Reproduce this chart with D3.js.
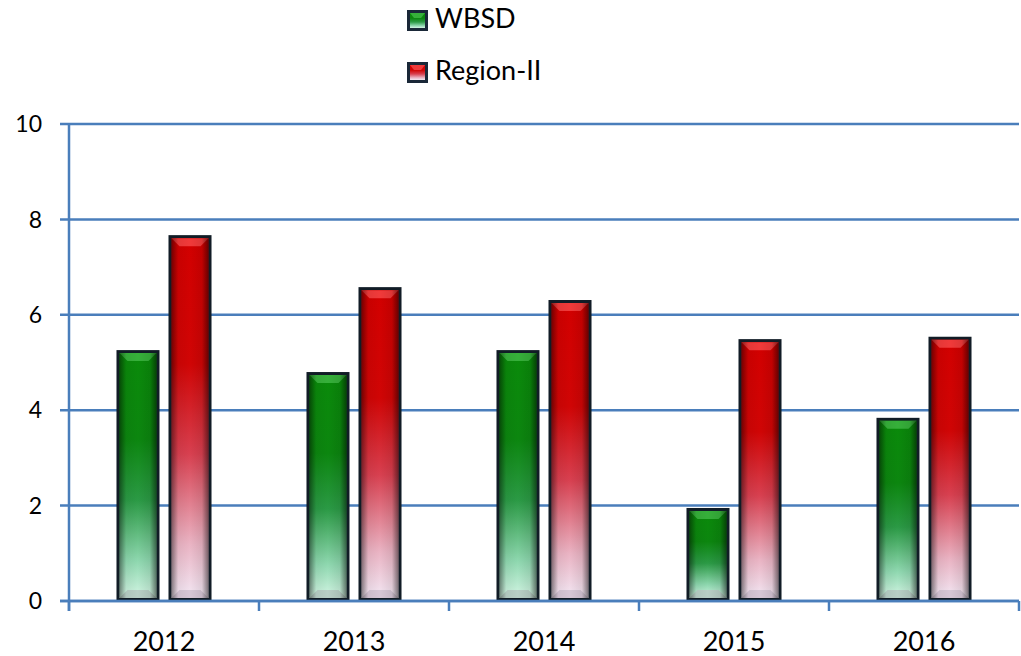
<!DOCTYPE html>
<html><head><meta charset="utf-8">
<script src="https://cdn.jsdelivr.net/npm/d3@7"></script>
<style>
html,body{margin:0;padding:0;background:#fff;}
svg{display:block;font-family:Lato, "Open Sans", sans-serif;}
</style></head>
<body>
<svg id="chart" width="1021" height="656"></svg>
<script>
const years = ["2012","2013","2014","2015","2016"];
const seriesNames = ["WBSD","Region-II"];
const wbsd = [5.26, 4.80, 5.26, 1.95, 3.84];
const region2 = [7.67, 6.58, 6.31, 5.49, 5.54];
const yTicks = [0,2,4,6,8,10];

(function(){
const svg = d3.select("#chart");
const pLeft = 69, pRight = 1019, pTop = 124, pBottom = 601;
const axisColor = "#4a7ebb";

const x0 = d3.scaleBand().domain(years).range([pLeft, pRight]).padding(0);
const x1 = d3.scaleBand().domain(seriesNames).range([0, x0.bandwidth()]).paddingInner(0.173).paddingOuter(0.913);
const y = d3.scaleLinear().domain([0,10]).range([pBottom, pTop]);

const defs = svg.append("defs");
function vgrad(id, stops){
  const g = defs.append("linearGradient").attr("id", id).attr("x1",0).attr("y1",0).attr("x2",0).attr("y2",1);
  stops.forEach(s=>g.append("stop").attr("offset",s[0]).attr("stop-color",s[1]));
}
vgrad("gGreen", [[0,"#0a8a0a"],[0.35,"#0c860f"],[0.6,"#2b9a45"],[0.85,"#8fd8b0"],[1,"#d4f5e4"]]);
vgrad("gRed", [[0,"#d20000"],[0.35,"#d00505"],[0.6,"#d84050"],[0.85,"#eab4c4"],[1,"#f3e8f4"]]);
const hs = defs.append("linearGradient").attr("id","side").attr("x1",0).attr("y1",0).attr("x2",1).attr("y2",0);
[[0,0.45],[0.18,0.05],[0.5,0],[0.82,0.08],[1,0.5]].forEach(s=>hs.append("stop").attr("offset",s[0]).attr("stop-color","#000").attr("stop-opacity",s[1]));

const fills = {"WBSD":"url(#gGreen)","Region-II":"url(#gRed)"};
const topBevel = {"WBSD":"#36b03a","Region-II":"#f03a3a"};
const botBevel = {"WBSD":"#b8cfc6","Region-II":"#d6c6d6"};

svg.append("g").selectAll("line").data(yTicks).join("line")
  .attr("x1", pLeft-9).attr("x2", pRight)
  .attr("y1", d=>y(d)).attr("y2", d=>y(d))
  .attr("stroke", axisColor).attr("stroke-width", 2.5);

svg.append("line").attr("x1",pLeft).attr("x2",pLeft).attr("y1",pTop).attr("y2",pBottom+10)
  .attr("stroke",axisColor).attr("stroke-width",2.5);
const bounds = years.map(d=>x0(d)).concat([pRight]);
svg.append("g").selectAll("line").data(bounds).join("line")
  .attr("x1",d=>d).attr("x2",d=>d).attr("y1",pBottom).attr("y2",pBottom+10)
  .attr("stroke",axisColor).attr("stroke-width",2.5);

svg.append("g").selectAll("text").data(yTicks).join("text")
  .attr("x", 42).attr("y", d=>y(d)).attr("dy","0.36em")
  .attr("text-anchor","end").attr("font-size",23).attr("fill","#000")
  .text(d=>d);

svg.append("g").selectAll("text").data(years).join("text")
  .attr("x", d=>x0(d)+x0.bandwidth()/2).attr("y", 651)
  .attr("text-anchor","middle").attr("font-size",27).attr("fill","#000")
  .text(d=>d);

const rows = [];
years.forEach((yr,i)=>{
  rows.push({year:yr, s:"WBSD", v:wbsd[i]});
  rows.push({year:yr, s:"Region-II", v:region2[i]});
});
const bw = x1.bandwidth();
const b = 3, bev = 8;
const bars = svg.append("g").selectAll("g").data(rows).join("g")
  .attr("transform", d=>`translate(${x0(d.year)+x1(d.s)},${y(d.v)})`);
bars.append("rect").attr("width",bw).attr("height",d=>pBottom-y(d.v)).attr("fill","#111c26");
bars.append("rect").attr("x",b).attr("y",b).attr("width",bw-2*b).attr("height",d=>Math.max(0,pBottom-y(d.v)-2*b))
  .attr("fill",d=>fills[d.s]);
bars.append("path").attr("d",()=>{
  const w = bw-2*b;
  return `M${b},${b} L${b+w},${b} L${b+w-bev},${b+bev} L${b+bev},${b+bev} Z`;
}).attr("fill",d=>topBevel[d.s]);
bars.append("path").attr("d",d=>{
  const h = pBottom-y(d.v); const w = bw-2*b;
  return `M${b},${h-b} L${b+w},${h-b} L${b+w-bev},${h-b-bev} L${b+bev},${h-b-bev} Z`;
}).attr("fill",d=>botBevel[d.s]);
bars.append("rect").attr("x",b).attr("y",b).attr("width",bw-2*b).attr("height",d=>Math.max(0,pBottom-y(d.v)-2*b))
  .attr("fill","url(#side)");

svg.append("line").attr("x1",pLeft-9).attr("x2",pRight).attr("y1",pBottom).attr("y2",pBottom)
  .attr("stroke",axisColor).attr("stroke-width",2.5);

const lg = svg.append("g").selectAll("g").data(seriesNames).join("g")
  .attr("transform",(d,i)=>`translate(407,${10+i*52})`);
lg.append("rect").attr("width",21).attr("height",21).attr("fill","#1a2838");
lg.append("rect").attr("x",3).attr("y",3).attr("width",15).attr("height",15).attr("fill",d=>fills[d]);
lg.append("path").attr("d","M3,3 L18,3 L14,8 L7,8 Z").attr("fill",d=>topBevel[d]);
lg.append("text").attr("x",28).attr("y",18).attr("font-size",27).attr("fill","#000").text(d=>d);
})();
</script>
</body></html>
